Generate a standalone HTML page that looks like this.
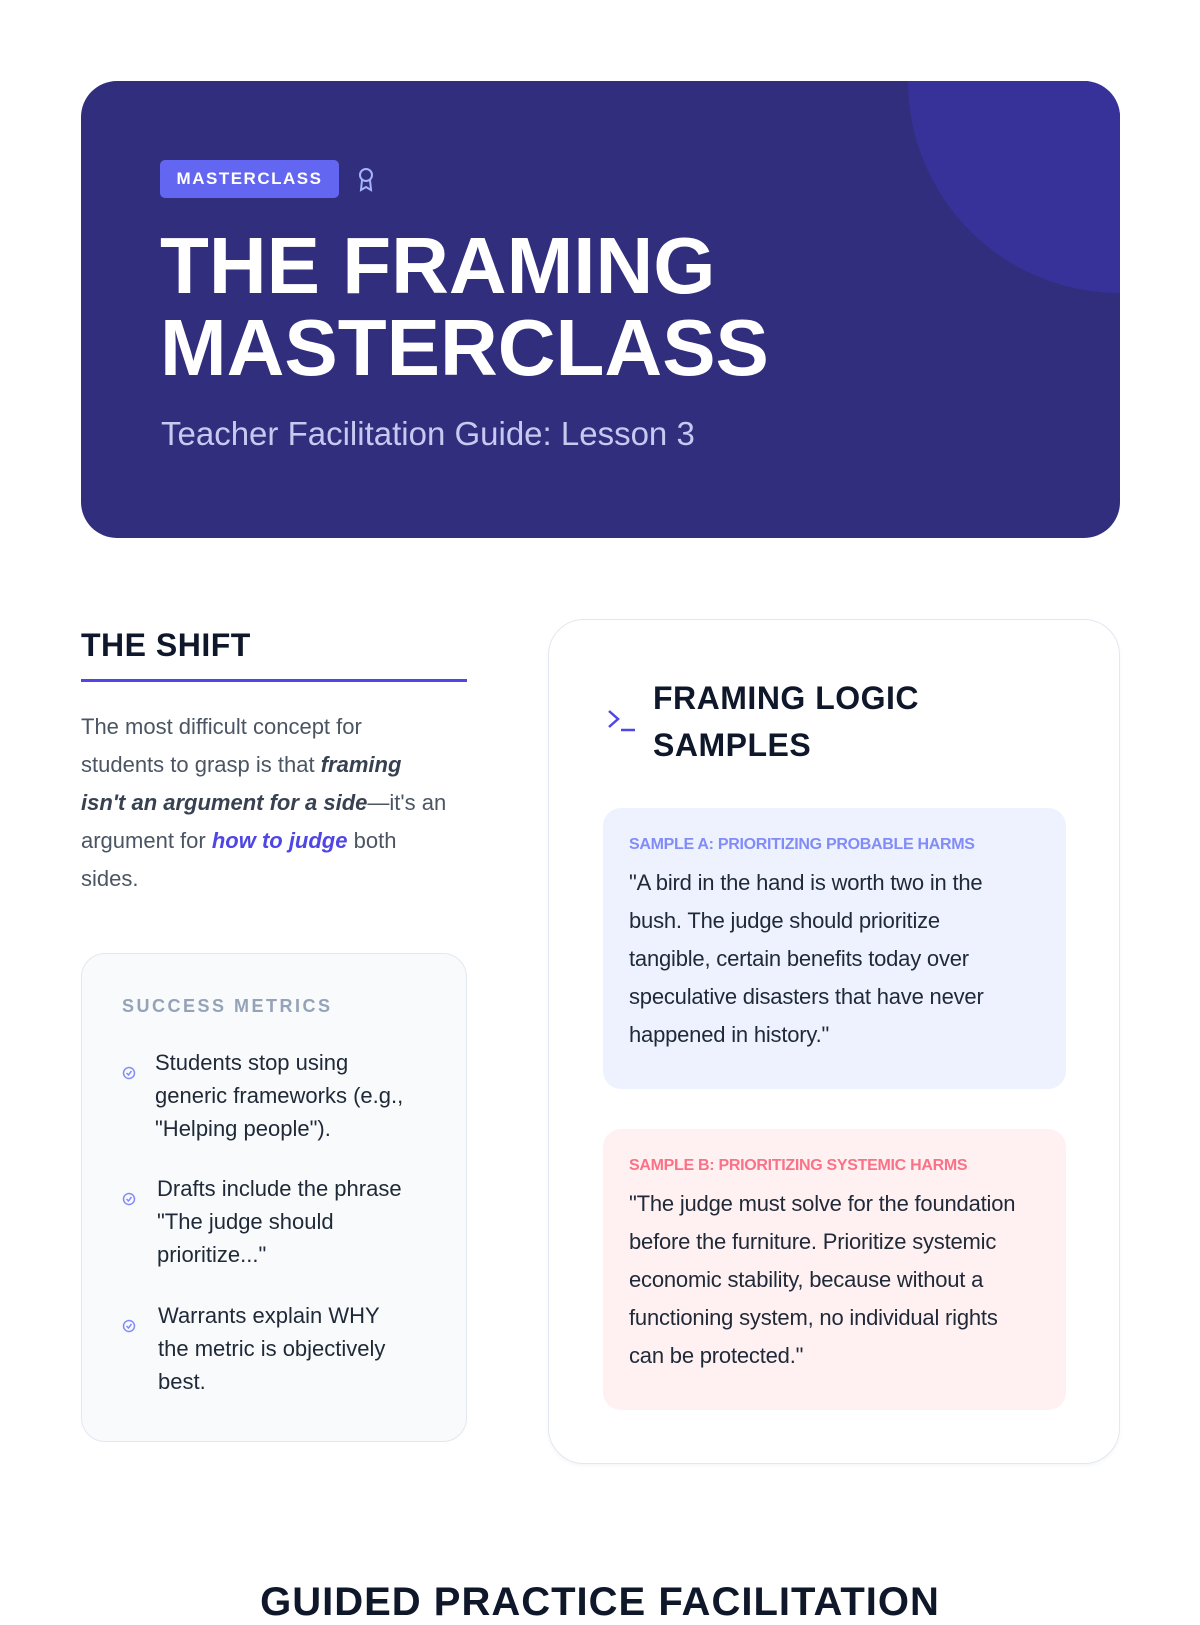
<!DOCTYPE html>
<html><head><meta charset="utf-8"><style>
*{box-sizing:border-box;margin:0;padding:0}
body{width:1200px;height:1600px;overflow:hidden;background:#fff;font-family:"Liberation Sans",sans-serif;position:relative}
.hdr{position:absolute;left:81px;top:81px;width:1039px;height:457px;background:#312e7e;border-radius:36px;overflow:hidden}
.circ{position:absolute;left:827px;top:-212px;width:424px;height:424px;border-radius:50%;background:#373299}
.badge{position:absolute;left:79px;top:79px;width:179px;height:38px;background:#6366f1;border-radius:5px;color:#fff;font-weight:bold;font-size:17px;letter-spacing:1.5px;text-align:center;line-height:38px}
.title{position:absolute;left:79px;top:144px;color:#fff;font-weight:900;font-size:80px;line-height:82px;letter-spacing:0}
.sub{position:absolute;left:80px;top:334px;color:#c7c9f0;font-size:33px}
.h2{font-weight:bold;color:#0f172a;font-size:32px;letter-spacing:.5px}
.p{position:absolute;left:81px;top:708px;width:368px;font-size:22px;line-height:38px;color:#4b5563}
.box{position:absolute;left:81px;top:953px;width:386px;height:489px;background:#f8fafc;border:1.5px solid #e2e8f0;border-radius:24px}
.item{position:absolute;left:73px;font-size:22px;line-height:33px;color:#1f2937;width:255px}
.chk{position:absolute;left:40px;width:14px;height:14px}
.card{position:absolute;left:548px;top:619px;width:572px;height:845px;border:1.5px solid #e2e8f0;border-radius:36px;box-shadow:0 2px 4px rgba(0,0,0,.04)}
.s{position:absolute;left:54px;width:463px;height:281px;border-radius:18px;padding:28px 26px}
.lbl{font-size:16px;font-weight:bold;letter-spacing:-.3px;margin-bottom:10px}
.q{font-size:22px;line-height:38px;color:#1f2937;letter-spacing:-.2px;width:390px}
</style></head><body>
<div class="hdr"><div class="circ"></div>
<div class="badge">MASTERCLASS</div>
<svg style="position:absolute;left:276px;top:86px" width="18" height="26" viewBox="0 0 18 26"><circle cx="9" cy="8" r="6" fill="none" stroke="#a5b4fc" stroke-width="2"/><path d="M5 13 L4 23 L9 20 L14 23 L13 13" fill="none" stroke="#a5b4fc" stroke-width="2"/></svg>
<div class="title">THE FRAMING<br>MASTERCLASS</div>
<div class="sub">Teacher Facilitation Guide: Lesson 3</div></div>

<div class="h2" style="position:absolute;left:81px;top:627px">THE SHIFT</div>
<div style="position:absolute;left:81px;top:679px;width:386px;height:3px;background:#4f46e5"></div>
<div class="p">The most difficult concept for students to grasp is that <b><i style="color:#374151">framing isn't an argument for a side</i></b>—it's an argument for <b><i style="color:#4f46e5">how to judge</i></b> both sides.</div>

<div class="box">
<div style="position:absolute;left:40px;top:42px;font-size:18px;font-weight:bold;letter-spacing:2.5px;color:#94a3b8">SUCCESS METRICS</div>
<svg class="chk" style="top:112px" viewBox="0 0 14 14"><circle cx="7" cy="7" r="5.5" fill="none" stroke="#818cf8" stroke-width="1.5"/><path d="M4.5 7 L6.5 9 L9.5 5" fill="none" stroke="#818cf8" stroke-width="1.5"/></svg><div class="item" style="top:92px;left:73px">Students stop using generic frameworks (e.g., "Helping people").</div>
<svg class="chk" style="top:238px" viewBox="0 0 14 14"><circle cx="7" cy="7" r="5.5" fill="none" stroke="#818cf8" stroke-width="1.5"/><path d="M4.5 7 L6.5 9 L9.5 5" fill="none" stroke="#818cf8" stroke-width="1.5"/></svg><div class="item" style="top:218px;left:75px">Drafts include the phrase "The judge should prioritize..."</div>
<svg class="chk" style="top:365px" viewBox="0 0 14 14"><circle cx="7" cy="7" r="5.5" fill="none" stroke="#818cf8" stroke-width="1.5"/><path d="M4.5 7 L6.5 9 L9.5 5" fill="none" stroke="#818cf8" stroke-width="1.5"/></svg><div class="item" style="top:345px;left:76px">Warrants explain WHY the metric is objectively best.</div>
</div>

<div class="card">
<svg style="position:absolute;left:58px;top:89px" width="30" height="24" viewBox="0 0 30 24"><path d="M2 2 L11 10 L2 18" fill="none" stroke="#4f46e5" stroke-width="2.5"/><path d="M14 21 H28" stroke="#4f46e5" stroke-width="2.5"/></svg>
<div class="h2" style="position:absolute;left:104px;top:55px;line-height:47px">FRAMING LOGIC<br>SAMPLES</div>
<div class="s" style="top:188px;background:#eef2ff"><div class="lbl" style="color:#818cf8">SAMPLE A: PRIORITIZING PROBABLE HARMS</div><div class="q">"A bird in the hand is worth two in the bush. The judge should prioritize tangible, certain benefits today over speculative disasters that have never happened in history."</div></div>
<div class="s" style="top:509px;background:#fff1f2"><div class="lbl" style="color:#fb7185">SAMPLE B: PRIORITIZING SYSTEMIC HARMS</div><div class="q">"The judge must solve for the foundation before the furniture. Prioritize systemic economic stability, because without a functioning system, no individual rights can be protected."</div></div>
</div>

<div style="position:absolute;left:0;width:1200px;top:1580px;text-align:center;font-size:40px;font-weight:bold;color:#0f172a;letter-spacing:1px">GUIDED PRACTICE FACILITATION</div>
</body></html>
